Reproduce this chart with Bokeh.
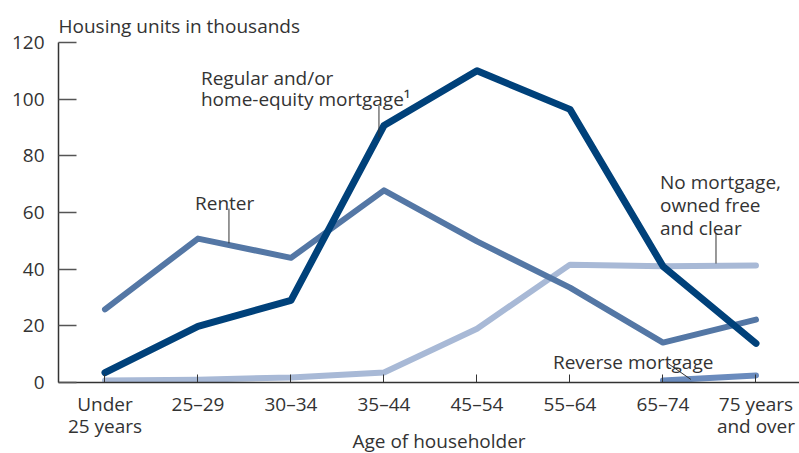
from bokeh.plotting import figure
from bokeh.models import Range1d, FixedTicker, Label, Title
from bokeh.embed import file_html
from bokeh.resources import INLINE

categories = ["Under\n25 years", "25\u201329", "30\u201334", "35\u201344", "45\u201354",
              "55\u201364", "65\u201374", "75 years\nand over"]
y_ticks = [0, 20, 40, 60, 80, 100, 120]

regular_mortgage = [3.5, 19.8, 29.0, 90.7, 110.0, 96.4, 41.0, 13.8]
renter = [25.8, 50.8, 44.0, 67.8, 49.8, 33.5, 14.1, 22.2]
no_mortgage = [0.7, 1.0, 1.8, 3.5, 19.0, 41.6, 41.0, 41.3]
reverse_cats = ["65\u201374", "75 years\nand over"]
reverse_mortgage = [0.7, 2.5]

FONT = "Open Sans"
TXT = "#333333"
FS = "19px"

xs = list(range(len(categories)))
rev_x = [categories.index(c) for c in reverse_cats]

p = figure(width=799, height=453, output_backend="svg", toolbar_location=None,
           x_range=Range1d(-0.5, 7.468), y_range=Range1d(0, 120),
           min_border_left=58, min_border_right=0, min_border_top=42,
           min_border_bottom=71, outline_line_color=None,
           background_fill_color="white", border_fill_color="white",
           title=Title(text="Housing units in thousands", align="left", offset=0,
                       text_font=FONT, text_font_size=FS, text_font_style="normal",
                       text_color=TXT, standoff=8))
p.grid.visible = False

# Axes
p.xaxis.ticker = FixedTicker(ticks=xs)
p.xaxis.major_label_overrides = {i: c for i, c in enumerate(categories)}
p.xaxis.major_tick_in = 8
p.xaxis.major_tick_out = 0
p.xaxis.minor_tick_line_color = None
p.xaxis.major_label_standoff = 8
p.xaxis.major_label_text_font = FONT
p.xaxis.major_label_text_font_size = FS
p.xaxis.major_label_text_color = TXT
p.xaxis.major_label_text_line_height = 0.88
p.xaxis.axis_line_color = "#333333"
p.xaxis.axis_line_width = 1.5
p.xaxis.major_tick_line_color = "#333333"

p.yaxis.ticker = FixedTicker(ticks=y_ticks)
p.yaxis.major_tick_in = 18
p.yaxis.major_tick_out = 0
p.yaxis.minor_tick_line_color = None
p.yaxis.major_label_standoff = 14
p.yaxis.major_label_text_font = FONT
p.yaxis.major_label_text_font_size = FS
p.yaxis.major_label_text_color = TXT
p.yaxis.axis_line_color = "#333333"
p.yaxis.axis_line_width = 1.5
p.yaxis.major_tick_line_color = "#555555"
p.yaxis.major_tick_line_width = 1.5

p.add_layout(Title(text="Age of householder", align="left", offset=294,
                   vertical_align="top",
                   text_font=FONT, text_font_size=FS, text_font_style="normal",
                   text_color=TXT, standoff=-29), "below")

# Lines
p.line(xs, no_mortgage, line_color="#a8b9d6", line_width=6, line_cap="round", line_join="round")
p.line(xs, renter, line_color="#5477a5", line_width=6, line_cap="round", line_join="round")
p.line(xs, regular_mortgage, line_color="#00417a", line_width=7, line_cap="round", line_join="round")
p.line(rev_x, reverse_mortgage, line_color="#6a8bbd", line_width=6, line_cap="round", line_join="round")

# Leader lines
p.segment(x0=[2.946, 1.333, 6.570, 6.054], y0=[97.8, 61.4, 52.6, 6.7],
          x1=[2.946, 1.333, 6.570, 6.301], y1=[86.5, 49.1, 42.0, 1.06],
          line_color="#333333", line_width=1)

def add_label(x, y, text, **kw):
    p.add_layout(Label(x=x, y=y, text=text, text_font=FONT, text_font_size=FS,
                       text_color=TXT, text_baseline="alphabetic", **kw))

add_label(1.032, 107.6, "Regular and/or")
add_label(1.032, 99.9, "home-equity mortgage\u00b9")
add_label(0.968, 63.5, "Renter")
add_label(5.968, 70.6, "No mortgage,")
add_label(5.968, 62.5, "owned free")
add_label(5.968, 54.7, "and clear")
add_label(4.817, 7.4, "Reverse mortgage")

open("out.html", "w").write(file_html(p, INLINE))
